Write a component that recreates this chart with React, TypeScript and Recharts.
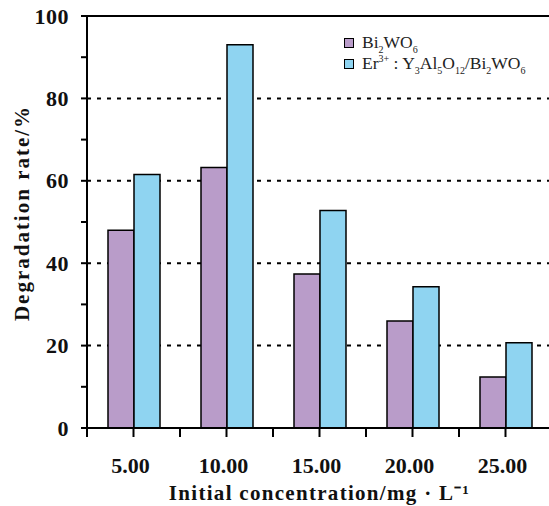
import { BarChart, Bar, XAxis, YAxis, CartesianGrid, ReferenceLine, Label } from "recharts";

const CONCENTRACIONES = ["5.00", "10.00", "15.00", "20.00", "25.00"];
const BI2WO6 = [48.0, 63.2, 37.4, 26.0, 12.4];
const ER_YAG_BI2WO6 = [61.5, 93.0, 52.8, 34.3, 20.7];
const Y_TICKS = [0, 10, 20, 30, 40, 50, 60, 70, 80, 90, 100];
const Y_MAX = 100;
const GRID_VALUES = [20, 40, 60, 80];

const COLOR_BI = "#b99cc9";
const COLOR_ER = "#8fd4f1";
const FUENTE = "'Liberation Serif', 'Times New Roman', serif";
const SUB = { fontSize: 10, lineHeight: 0 };

const data = CONCENTRACIONES.map((c, i) => ({ name: c, bi: BI2WO6[i], er: ER_YAG_BI2WO6[i] }));

const TickY = ({ x, y, payload }: any) => {
  if (payload.value % 20 !== 0) return null;
  return (
    <text x={x} y={y} textAnchor="end" dominantBaseline="central" fontFamily={FUENTE} fontWeight="bold" fontSize={22} letterSpacing={0.5} fill="#111">
      {payload.value}
    </text>
  );
};

const TickX = ({ x, y, payload }: any) => {
  const half = payload.offset ?? 46.5;
  return (
    <g>
      <line x1={x} x2={x} y1={y - 8} y2={y + 1} stroke="#000" strokeWidth={2} />
      <line x1={x - half} x2={x - half} y1={y - 8} y2={y + 1} stroke="#000" strokeWidth={2} />
      <text x={x - 3} y={y + 37} textAnchor="middle" fontFamily={FUENTE} fontWeight="bold" fontSize={22} fill="#111">
        {payload.value}
      </text>
    </g>
  );
};

// lineas punteadas solo en 20/40/60/80
const gridY = ({ offset }: any) => GRID_VALUES.map((v) => offset.top + offset.height * (1 - v / Y_MAX));

const TituloY = ({ viewBox }: any) => {
  const cy = viewBox.y + viewBox.height / 2 - 9;
  return (
    <text x={22} y={cy} transform={`rotate(-90, 22, ${cy})`} textAnchor="middle" dominantBaseline="central" fontFamily={FUENTE} fontWeight="bold" fontSize={21} letterSpacing={2} fill="#111">
      Degradation rate/%
    </text>
  );
};

export default function App() {
  return (
    <div style={{ position: "absolute", left: 0, top: 0, width: 549, height: 506, overflow: "hidden", background: "#fff" }}>
      <BarChart width={552} height={506} data={data} margin={{ top: 16, right: 0, left: 0, bottom: 0 }} barGap={0} barSize={26}>
        <CartesianGrid
          vertical={false}
          stroke="#000"
          strokeWidth={2}
          strokeDasharray="4 6"
          horizontalCoordinatesGenerator={gridY}
        />
        <XAxis dataKey="name" height={78} axisLine={{ stroke: "#000", strokeWidth: 2 }} tickLine={false} tickSize={8} tickMargin={0} tick={<TickX />} interval={0}>
          <Label
            value="Initial concentration/mg · L⁻¹"
            position="insideBottom"
            offset={6}
            style={{ fontFamily: FUENTE, fontWeight: "bold", fontSize: 21, fill: "#111", letterSpacing: 1.3 }}
          />
        </XAxis>
        <YAxis
          type="number"
          domain={[0, Y_MAX]}
          ticks={Y_TICKS}
          width={87}
          axisLine={{ stroke: "#000", strokeWidth: 2 }}
          tickLine={{ stroke: "#000", strokeWidth: 2 }}
          tickSize={6}
          tickMargin={12}
          tick={<TickY />}
          interval={0}
        >
          <Label content={<TituloY />} />
        </YAxis>
        <ReferenceLine y={Y_MAX} stroke="#000" strokeWidth={2} />
        <Bar dataKey="bi" name="Bi2WO6" fill={COLOR_BI} stroke="#000" strokeWidth={1.5} isAnimationActive={false} />
        <Bar dataKey="er" name="Er3+:Y3Al5O12/Bi2WO6" fill={COLOR_ER} stroke="#000" strokeWidth={1.5} isAnimationActive={false} />
      </BarChart>
      <div style={{ position: "absolute", left: 344, top: 32, fontFamily: FUENTE, fontSize: 17.5, color: "#222", lineHeight: "21px" }}>
        <div style={{ display: "flex", alignItems: "center" }}>
          <span style={{ display: "inline-block", width: 8, height: 8, background: COLOR_BI, border: "1.5px solid #000", marginRight: 8 }} />
          <span>Bi<sub style={SUB}>2</sub>WO<sub style={SUB}>6</sub></span>
        </div>
        <div style={{ display: "flex", alignItems: "center" }}>
          <span style={{ display: "inline-block", width: 8, height: 8, background: COLOR_ER, border: "1.5px solid #000", marginRight: 8 }} />
          <span>
            Er<sup style={SUB}>3+</sup> : Y<sub style={SUB}>3</sub>Al<sub style={SUB}>5</sub>O<sub style={SUB}>12</sub>/Bi<sub style={SUB}>2</sub>WO<sub style={SUB}>6</sub>
          </span>
        </div>
      </div>
    </div>
  );
}
